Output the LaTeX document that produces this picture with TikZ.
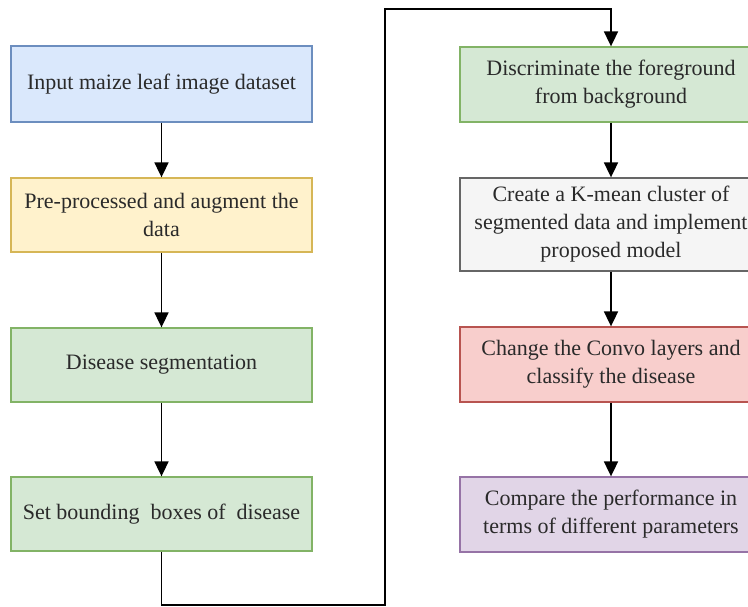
\documentclass[tikz,border=0pt]{standalone}
\usepackage{fontspec}
\setmainfont{Liberation Serif}[Extension=.ttf, UprightFont=LiberationSerif-Regular]
\usetikzlibrary{arrows.meta}
\definecolor{bluef}{HTML}{DAE8FC}\definecolor{blued}{HTML}{6C8EBF}
\definecolor{yelf}{HTML}{FFF2CC}\definecolor{yeld}{HTML}{D6B656}
\definecolor{grnf}{HTML}{D5E8D4}\definecolor{grnd}{HTML}{82B366}
\definecolor{gryf}{HTML}{F5F5F5}\definecolor{gryd}{HTML}{666666}
\definecolor{redf}{HTML}{F8CECC}\definecolor{redd}{HTML}{B85450}
\definecolor{purf}{HTML}{E1D5E7}\definecolor{purd}{HTML}{9673A6}
\definecolor{txt}{HTML}{2A2A2A}
\tikzset{
  box/.style={rectangle, line width=1.3pt, inner sep=0pt, align=center,
    text=txt, font=\rmfamily\fontsize{22}{28}\selectfont},
  lbox/.style={box, minimum width=301pt},
  rbox/.style={box, minimum width=302pt},
  flow/.style={line width=1.8pt, draw=black, -{Triangle[length=15pt,width=14pt]}}
}
\begin{document}
\begin{tikzpicture}[x=1pt,y=-1pt]
\path[use as bounding box, fill=white] (0,0) rectangle (748,607);
% left column
\node[lbox, fill=bluef, draw=blued, minimum height=76pt] (n1) at (161.5,84) {Input maize leaf image dataset};
\node[lbox, fill=yelf, draw=yeld, minimum height=74pt] (n2) at (161.5,215) {Pre-processed and augment the\\data};
\node[lbox, fill=grnf, draw=grnd, minimum height=74pt] (n3) at (161.5,365) {Disease segmentation};
\node[lbox, fill=grnf, draw=grnd, minimum height=74pt] (n4) at (161.5,514) {Set bounding\ \ boxes of\ \ disease};
% right column
\node[rbox, fill=grnf, draw=grnd, minimum height=75pt] (n5) at (611,84.5) {Discriminate the foreground\\from background};
\node[rbox, fill=gryf, draw=gryd, minimum height=93pt] (n6) at (611,224.5) {Create a K-mean cluster of\\segmented data and implement\\proposed model};
\node[rbox, fill=redf, draw=redd, minimum height=75pt] (n7) at (611,364.5) {Change the Convo layers and\\classify the disease};
\node[rbox, fill=purf, draw=purd, minimum height=75pt] (n8) at (611,514.5) {Compare the performance in\\terms of different parameters};
% connectors
\coordinate (c1) at (161.5,605);
\coordinate (c2) at (385,605);
\coordinate (c3) at (385,9);
\coordinate (c4) at (611,9);
\draw[flow] (n1) -- (n2);
\draw[flow] (n2) -- (n3);
\draw[flow] (n3) -- (n4);
\draw[flow] (n4.south) -- (c1) -- (c2) -- (c3) -- (c4) -- (n5.north);
\draw[flow] (n5) -- (n6);
\draw[flow] (n6) -- (n7);
\draw[flow] (n7) -- (n8);
\end{tikzpicture}
\end{document}
